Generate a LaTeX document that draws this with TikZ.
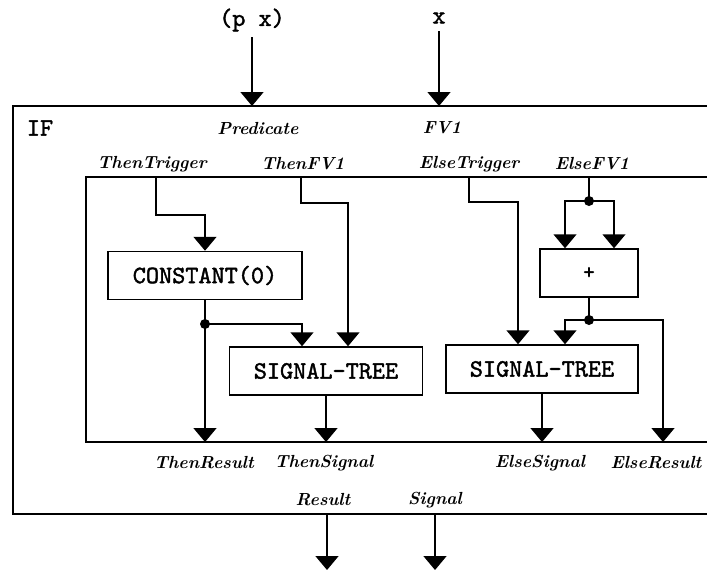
\documentclass[tikz,border=0pt]{standalone}
\usepackage{fontspec}
\newfontfamily\ttbold{lmmono10-regular.otf}[FakeBold=1.6]
\usetikzlibrary{arrows.meta}
\begin{document}
\begin{tikzpicture}[x=1pt,y=-1pt,line width=1.5pt,
  arr/.style={-{Triangle[width=23pt,length=14pt]}},
  blk/.style={draw,rectangle,minimum width=#1,minimum height=48pt,inner sep=0pt,
    font=\fontsize{25}{27}\selectfont\ttbold},
  lbl/.style={font=\fontsize{17.5}{20}\selectfont\bfseries\itshape,inner sep=0pt},
  ttl/.style={font=\fontsize{25}{27}\selectfont\ttbold,inner sep=0pt},
  jdot/.style={circle,fill,inner sep=0pt,minimum size=10pt}]
\useasboundingbox (0,0) rectangle (707,571);
% outer and inner frames (open to the right edge)
\draw (707,106) -- (13,106) -- (13,514) -- (707,514);
\draw (707,177) -- (86,177) -- (86,442) -- (707,442);
% inputs
\node[ttl] (px) at (252,20) {(p x)};
\node[ttl] (xin) at (439,18) {x};
\coordinate (predIn) at (252,106);
\coordinate (fvIn) at (439,106);
\draw[arr,shorten <=5pt] (px.south) -- (predIn);
\draw[arr,shorten <=7pt] (xin.south) -- (fvIn);
% labels
\node[ttl] (iflbl) at (40,128) {IF};
\node[lbl] (predL) at (258,128) {Predicate};
\node[lbl] (fvL) at (442,128) {FV1};
\node[lbl] (ttL) at (152,164) {ThenTrigger};
\node[lbl] (tfL) at (303,164) {ThenFV1};
\node[lbl] (etL) at (469,164) {ElseTrigger};
\node[lbl] (efL) at (592,164) {ElseFV1};
\node[lbl] (trL) at (204,463) {ThenResult};
\node[lbl] (tsL) at (324,463) {ThenSignal};
\node[lbl] (esL) at (540,463) {ElseSignal};
\node[lbl] (erL) at (656,463) {ElseResult};
\node[lbl] (rL) at (323,500) {Result};
\node[lbl] (sL) at (435,500) {Signal};
% blocks
\node[blk=194pt] (const) at (205,275.5) {CONSTANT(0)};
\node[blk=193pt] (st1) at (326,371) {SIGNAL-TREE};
\node[blk=98pt,font=\fontsize{22}{24}\selectfont\ttbold] (plus) at (589,273) {+};
\node[blk=192pt] (st2) at (542,369) {SIGNAL-TREE};
% port coordinates
\coordinate (thenTrig) at (156,177);
\coordinate (thenFV) at (301,177);
\coordinate (elseTrig) at (469,177);
\coordinate (elseFV) at (589,177);
\coordinate (thenRes) at (205,442);
\coordinate (thenSig) at (326,442);
\coordinate (elseSig) at (542,442);
\coordinate (elseRes) at (663,442);
\coordinate (res) at (327,514);
\coordinate (sig) at (435,514);
\coordinate (resOut) at (327,570);
\coordinate (sigOut) at (435,570);
% junction dots
\node[jdot] (d1) at (205,324) {};
\node[jdot] (d2) at (589,201) {};
\node[jdot] (d3) at (589,320) {};
% then side
\draw[arr] (thenTrig) -- ++(0,38) -| (const.north);
\draw[arr] (thenFV) -- ++(0,26) -| ([xshift=22pt]st1.north);
\draw (const.south) -- (d1.center);
\draw[arr] (d1.center) -- (thenRes);
\draw[arr] (d1.center) -| ([xshift=-24pt]st1.north);
\draw[arr] (st1.south) -- (thenSig);
% else side
\draw[arr] (elseTrig) -- ++(0,25) -| ([xshift=-24pt]st2.north);
\draw (elseFV) -- (d2.center);
\draw[arr] (d2.center) -| ([xshift=-24pt]plus.north);
\draw[arr] (d2.center) -| ([xshift=25pt]plus.north);
\draw (plus.south) -- (d3.center);
\draw[arr] (d3.center) -| ([xshift=23pt]st2.north);
\draw[arr] (d3.center) -| (elseRes);
\draw[arr] (st2.south) -- (elseSig);
% outputs
\draw[arr] (res) -- (resOut);
\draw[arr] (sig) -- (sigOut);
\end{tikzpicture}
\end{document}
